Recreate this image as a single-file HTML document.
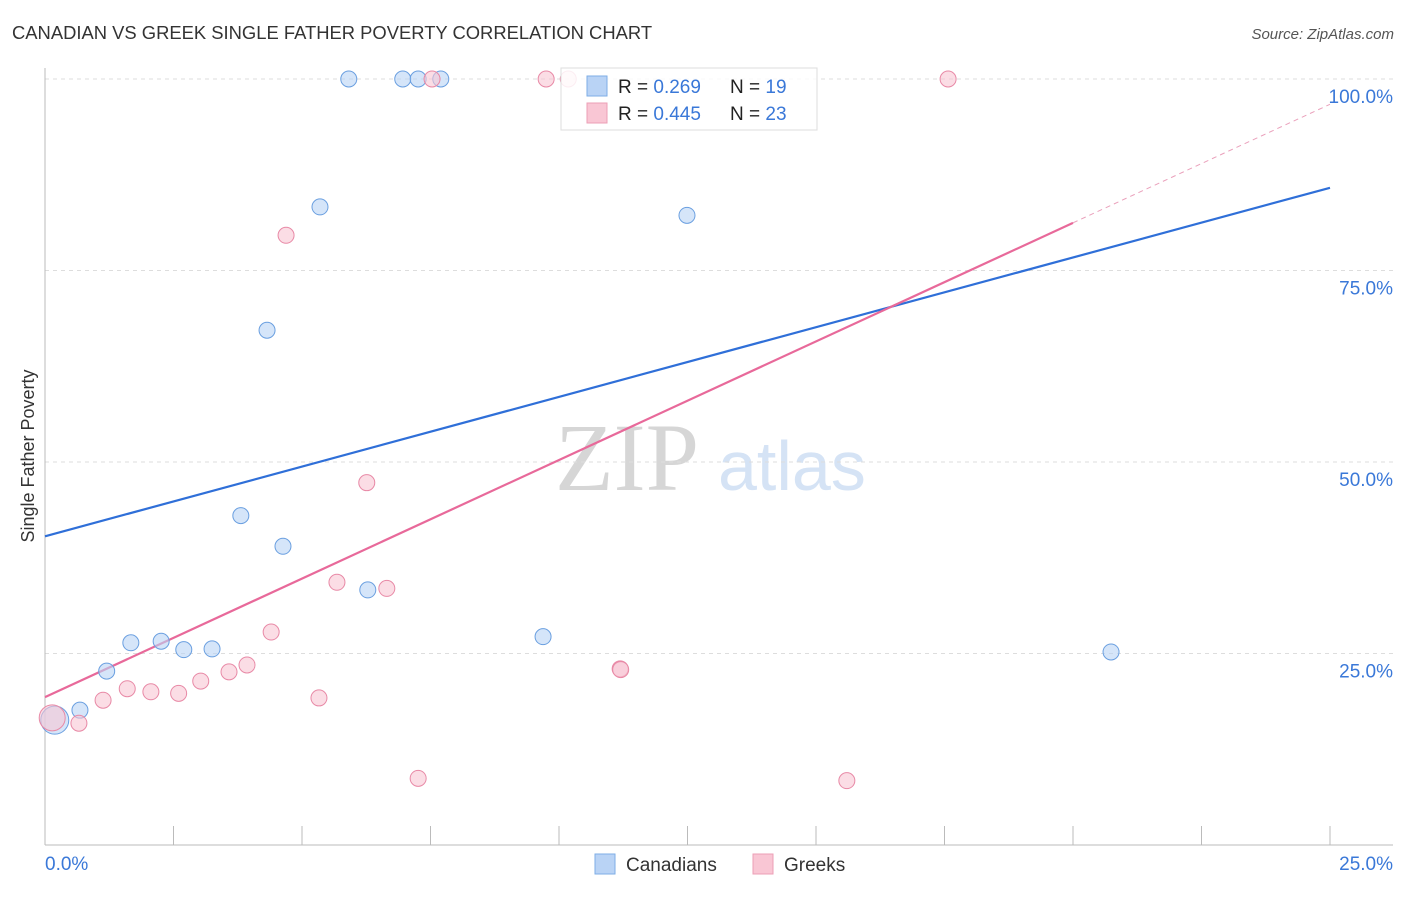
<!DOCTYPE html>
<html><head><meta charset="utf-8"><style>
body{margin:0;background:#fff;font-family:"Liberation Sans",sans-serif;}
</style></head><body>
<svg id="chart" width="1406" height="892" style="font-family:'Liberation Sans',sans-serif">
<text x="12" y="39" font-size="18.4" fill="#333">CANADIAN VS GREEK SINGLE FATHER POVERTY CORRELATION CHART</text>
<text x="1394" y="39" font-size="15" font-style="italic" fill="#555" text-anchor="end">Source: ZipAtlas.com</text>
<text x="555" y="490" font-size="96" fill="#d6d6d6" style="font-family:'Liberation Serif',serif">ZIP</text>
<text x="718" y="490" font-size="70" fill="#d5e3f5">atlas</text>
<text transform="translate(34,456) rotate(-90)" font-size="18" fill="#333" text-anchor="middle">Single Father Poverty</text>
<g id="grid"></g><g id="lines"></g><g id="pts"></g>
<g>
<rect x="561" y="68" width="256" height="62" fill="#fff" fill-opacity="0.85" stroke="#ddd"/>
<rect x="587" y="76" width="20" height="20" fill="#b9d3f5" stroke="#7eaee6"/>
<rect x="587" y="103" width="20" height="20" fill="#f9c6d4" stroke="#ec9fb6"/>
<text x="618" y="93" font-size="19" fill="#222">R = <tspan fill="#3a78d8">0.269</tspan></text>
<text x="730" y="93" font-size="19" fill="#222">N = <tspan fill="#3a78d8">19</tspan></text>
<text x="618" y="120" font-size="19" fill="#222">R = <tspan fill="#3a78d8">0.445</tspan></text>
<text x="730" y="120" font-size="19" fill="#222">N = <tspan fill="#3a78d8">23</tspan></text>
</g>
<g>
<rect x="595" y="854" width="20" height="20" fill="#b9d3f5" stroke="#7eaee6"/>
<text x="626" y="871" font-size="19" fill="#333">Canadians</text>
<rect x="753" y="854" width="20" height="20" fill="#f9c6d4" stroke="#ec9fb6"/>
<text x="784" y="871" font-size="19" fill="#333">Greeks</text>
</g>
</svg>
<script>
const yTicks=[25,50,75,100];
const xTickLabels=["0.0%","25.0%"];
const canX=[0.19,0.68,1.2,1.67,2.26,2.7,3.25,3.81,4.32,4.63,5.35,5.91,6.28,6.96,7.26,7.7,9.69,12.49,20.74];
const canY=[16.3,17.6,22.7,26.4,26.6,25.5,25.6,43.0,67.2,39.0,83.3,100,33.3,100,100,100,27.2,82.2,25.2];
const grkX=[0.14,0.66,1.13,1.6,2.06,2.6,3.03,3.58,3.93,4.4,4.69,5.33,5.68,6.26,6.65,7.26,7.53,9.75,10.18,11.19,11.2,15.6,17.57];
const grkY=[16.6,15.9,18.9,20.4,20.0,19.8,21.4,22.6,23.5,27.8,79.6,19.2,34.3,47.3,33.5,8.7,100,100,100,23.0,22.9,8.4,100];
const canTrend=[40.3,85.8];
const grkTrend=[19.3,96.7];
const NS="http://www.w3.org/2000/svg";
const sx=v=>45+v*51.4, sy=v=>845-v*7.66;
function mk(tag,attrs,parent){const e=document.createElementNS(NS,tag);for(const k in attrs)e.setAttribute(k,attrs[k]);parent.appendChild(e);return e;}
const grid=document.getElementById('grid'),lines=document.getElementById('lines'),pts=document.getElementById('pts');
yTicks.forEach(t=>{
 const l=mk('line',{x1:45,x2:1393,y1:sy(t),y2:sy(t),stroke:'#ddd','stroke-dasharray':'4,4'},grid);
 
 
 const tx=mk('text',{x:1393,y:sy(t)+24,'font-size':19,fill:'#3a78d8','text-anchor':'end'},grid);tx.textContent=t.toFixed(1)+'%';
 
 
});
const ax=mk('line',{x1:45,x2:45,y1:68,y2:845,stroke:'#bbb'},grid);


const bx=mk('line',{x1:45,x2:1393,y1:845,y2:845,stroke:'#bbb'},grid);


for(let i=1;i<=10;i++){const t=mk('line',{x1:sx(i*2.5),x2:sx(i*2.5),y1:826,y2:845,stroke:'#bbb'},grid);
 
 }
const xl0=mk('text',{x:45,y:870,'font-size':19,fill:'#3a78d8'},grid);xl0.textContent=xTickLabels[0];


const xl1=mk('text',{x:1393,y:870,'font-size':19,fill:'#3a78d8','text-anchor':'end'},grid);xl1.textContent=xTickLabels[1];


const bl=mk('line',{x1:sx(0),y1:sy(canTrend[0]),x2:sx(25),y2:sy(canTrend[1]),stroke:'#2f6fd8','stroke-width':2.2},lines);


const gAt=x=>grkTrend[0]+(grkTrend[1]-grkTrend[0])*x/25;
const pl=mk('line',{x1:sx(0),y1:sy(gAt(0)),x2:sx(20),y2:sy(gAt(20)),stroke:'#e8699a','stroke-width':2.2},lines);


const pd=mk('line',{x1:sx(20),y1:sy(gAt(20)),x2:sx(25),y2:sy(gAt(25)),stroke:'#eaa0bb','stroke-width':1,'stroke-dasharray':'5,4'},lines);


canX.forEach((x,i)=>{const c=mk('circle',{cx:sx(x),cy:sy(canY[i]),r:i==0?14:8,fill:'#b9d3f5','fill-opacity':0.6,stroke:'#6a9fe0','stroke-width':1},pts);
 
 });
grkX.forEach((x,i)=>{const c=mk('circle',{cx:sx(x),cy:sy(grkY[i]),r:i==0?13:8,fill:'#f9c6d4','fill-opacity':0.6,stroke:'#e889a6','stroke-width':1},pts);
 
 });
</script>
</body></html>
